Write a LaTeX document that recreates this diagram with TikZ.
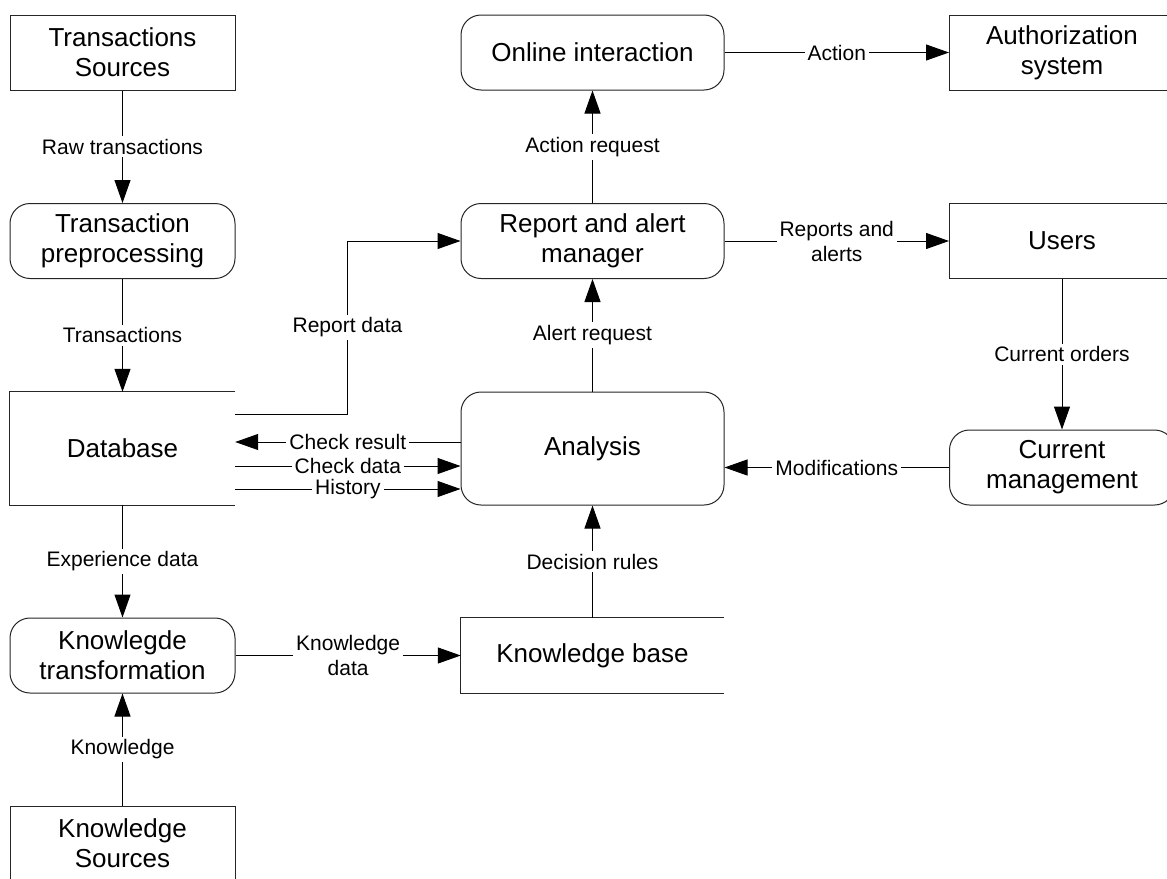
\documentclass[tikz,border=0pt]{standalone}
\usepackage{fontspec}
\setmainfont{Liberation Sans}
\usetikzlibrary{arrows.meta,calc}
\begin{document}
\begin{tikzpicture}[x=1pt,y=-1pt,
  every node/.style={font=\fontsize{26}{30}\selectfont, align=center, inner sep=0pt},
  box/.style={draw=black!85, line width=1pt, minimum width=225pt, minimum height=75pt},
  rbox/.style={box, rounded corners=20pt},
  wide/.style={minimum width=263pt},
  store/.style={minimum width=225pt, minimum height=75pt},
  storeline/.style={draw=black!85, line width=1pt},
  arr/.style={line width=1pt, -{Triangle[length=23pt,width=16pt]}},
  lbl/.style={fill=white, inner sep=3pt, font=\fontsize{21}{25}\selectfont},
]
\useasboundingbox (0,0) rectangle (1167,878);
\fill[white] (0,0) rectangle (1167,878);
\clip (0,0) rectangle (1167,878);

% left column
\node[box] (tsrc) at (122.5,52.5) {Transactions\\Sources};
\node[rbox] (tpre) at (122.5,241) {Transaction\\preprocessing};
\node[store, minimum height=113pt] (db) at (122.5,448.5) {Database};
\node[rbox] (ktr) at (122.5,655.5) {Knowlegde\\transformation};
\node[box] (ksrc) at (122.5,843.5) {Knowledge\\Sources};

% middle column
\node[rbox, wide] (online) at (592.5,52.5) {Online interaction};
\node[rbox, wide] (rmgr) at (592.5,241) {Report and alert\\manager};
\node[rbox, wide, minimum height=113pt] (ana) at (592.5,448.5) {Analysis};
\node[store, wide] (kb) at (592.5,655.5) {Knowledge base};

% right column
\node[box] (auth) at (1062,52.5) {Authorization\\system};
\node[box] (users) at (1062,241) {Users};
\node[rbox] (cm) at (1062,467.5) {Current\\management};

% data store outlines (open on the right)
\draw[storeline] (db.north east) -- (db.north west) -- (db.south west) -- (db.south east);
\draw[storeline] (kb.north east) -- (kb.north west) -- (kb.south west) -- (kb.south east);

% connectors
\draw[arr] (tsrc) -- node[lbl]{Raw transactions} (tpre);
\draw[arr] (tpre) -- node[lbl]{Transactions} (db);
\draw[arr] (db) -- node[lbl]{Experience data} (ktr);
\draw[arr] (ksrc) -- node[lbl]{Knowledge} (ktr);
\draw[arr] (ktr) -- node[lbl]{Knowledge\\data} (kb);
\draw[arr] (kb) -- node[lbl]{Decision rules} (ana);
\draw[arr] (ana) -- node[lbl]{Alert request} (rmgr);
\draw[arr] (rmgr) -- node[lbl]{Action request} (online);
\draw[arr] (online) -- node[lbl]{Action} (auth);
\draw[arr] (rmgr) -- node[lbl]{Reports and\\alerts} (users);
\draw[arr] (users) -- node[lbl]{Current orders} (cm);
\draw[arr] (cm.west) -- node[lbl]{Modifications} (cm.west -| ana.east);
\draw[arr] ([yshift=6.5pt]ana.west) -- node[lbl]{Check result} ([yshift=6.5pt]db.east);
\draw[arr] ([yshift=-17.5pt]db.east) -- node[lbl]{Check data} ([yshift=-17.5pt]ana.west);
\draw[arr] ([yshift=-40.5pt]db.east) -- node[lbl]{History} ([yshift=-40.5pt]ana.west);
\draw[arr] ([yshift=34.5pt]db.east) -| node[lbl,pos=0.75]{Report data} ([xshift=-113pt]rmgr.west) -- (rmgr.west);
\end{tikzpicture}
\end{document}
